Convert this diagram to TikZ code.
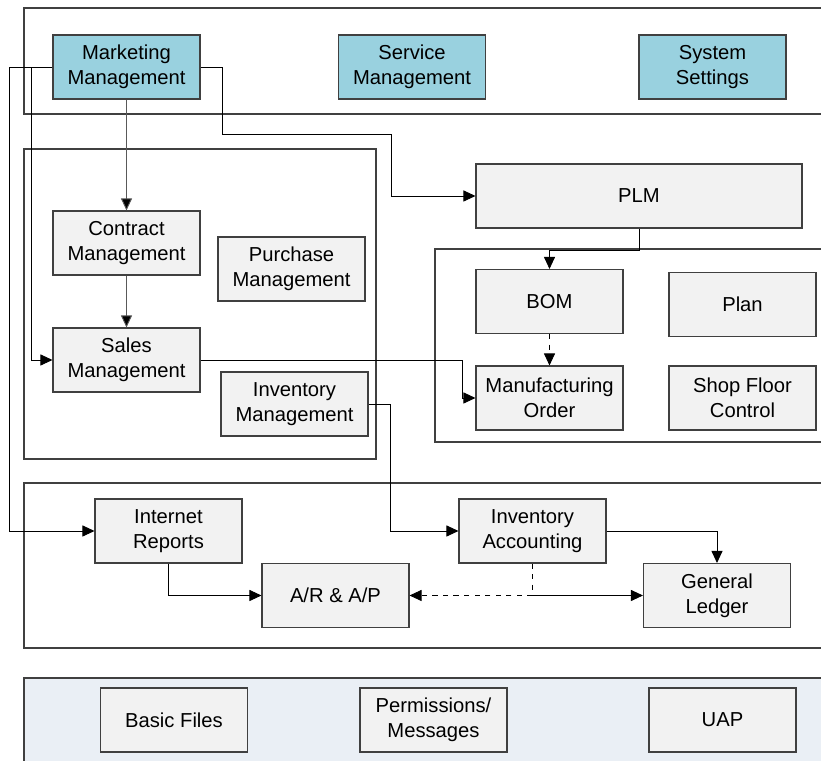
\documentclass[tikz,border=0pt]{standalone}
\usepackage{fontspec}
\setmainfont{Liberation Sans}
\usetikzlibrary{arrows.meta,positioning}
\definecolor{modteal}  {RGB}{153,209,223}
\definecolor{boxgray}  {RGB}{242,242,242}
\definecolor{bandbg}   {RGB}{234,239,245}
\definecolor{linegray} {RGB}{ 64, 64, 64}

\begin{document}
\begin{tikzpicture}[
      font=\fontsize{11.5}{14}\selectfont,
      mbox/.style={draw=linegray, line width=0.6pt, fill=boxgray,
                   minimum width=29.4mm, minimum height=12.8mm,
                   align=center, inner sep=1pt},
      tbox/.style={mbox, fill=modteal},
      frame/.style={draw=linegray, line width=0.7pt},
      arr/.style={-{Triangle[length=2.4mm,width=2.2mm]}, line width=0.5pt},
    ]
      \useasboundingbox (0,0) rectangle (16.42,15.22);
      \clip (0,0) rectangle (16.42,15.22);

      % Frames
      \draw[frame] (0.48,15.06) rectangle (16.60,12.94);
      \draw[frame] (0.48,12.24) rectangle ( 7.52, 6.04);
      \draw[frame] (8.70,10.24) rectangle (16.60, 6.38);
      \draw[frame] (0.48, 5.56) rectangle (16.60, 2.26);
      \draw[frame, fill=bandbg] (0.48,1.66) rectangle (16.60,-0.20);

      % Top modules
      \node[tbox] (mkt) at ( 2.53, 13.88) {Marketing\\Management};
      \node[tbox] (svc) at ( 8.24, 13.88) {Service\\Management};
      \node[tbox] (sys) at (14.25, 13.88) {System\\Settings};

      % Logistics
      \node[mbox] (con) at ( 2.53, 10.36) {Contract\\Management};
      \node[mbox] (pur) at ( 5.83,  9.84) {Purchase\\Management};
      \node[mbox] (sal) at ( 2.53,  8.02) {Sales\\Management};
      \node[mbox] (inv) at ( 5.89,  7.14) {Inventory\\Management};

      % Production
      \node[mbox, minimum width=65.2mm] (plm) at (12.78, 11.30) {PLM};
      \node[mbox] (bom) at (10.99,  9.19) {BOM};
      \node[mbox] (pln) at (14.85,  9.13) {Plan};
      \node[mbox] (mfo) at (10.99,  7.26) {Manufacturing\\Order};
      \node[mbox] (sfc) at (14.85,  7.26) {Shop Floor\\Control};

      % Finance
      \node[mbox] (inr) at ( 3.37,  4.60) {Internet\\Reports};
      \node[mbox] (ina) at (10.65,  4.60) {Inventory\\Accounting};
      \node[mbox] (arp) at ( 6.71,  3.31) {A/R \& A/P};
      \node[mbox] (gl)  at (14.34,  3.31) {General\\Ledger};

      % Base
      \node[mbox] (bsf) at ( 3.48,  0.82) {Basic Files};
      \node[mbox] (prm) at ( 8.67,  0.82) {Permissions/\\Messages};
      \node[mbox] (uap) at (14.45,  0.82) {UAP};

      % Arrows
      \draw[arr] (mkt.west)--++(-0.86,0)|-(inr.west);
      \draw[arr] (mkt.west)--++(-0.42,0)|-(sal.west);
      \draw[arr, draw=gray!70!black, -{Triangle[length=2.4mm,width=2.2mm,fill=black]}]
            (mkt.south)--(con.north);
      \draw[arr, draw=gray!70!black, -{Triangle[length=2.4mm,width=2.2mm,fill=black]}]
            (con.south)--(sal.north);
      \draw[arr] (mkt.east)--++(0.44,0)--++(0,-1.34)--++(3.38,0)|-(plm.west);
      \draw[arr] (sal.east)--++(5.24,0)|-(mfo.west);
      \draw[arr] (inv.east)--++(0.44,0)|-(ina.west);
      \draw[arr] (plm.south)--++(0,-0.44)-|(bom.north);
      \draw[arr, dashed] (bom.south)--(mfo.north);
      \draw[arr] (inr.south)|-(arp.west);
      \draw[arr] (ina.east)-|(gl.north);
      \coordinate (jn) at (ina.south |- arp.east);
      \draw[dashed, line width=0.5pt] (ina.south)--(jn);
      \draw[arr, dashed] (jn)--(arp.east);
      \draw[arr] (jn)--(gl.west);
    \end{tikzpicture}
\end{document}
